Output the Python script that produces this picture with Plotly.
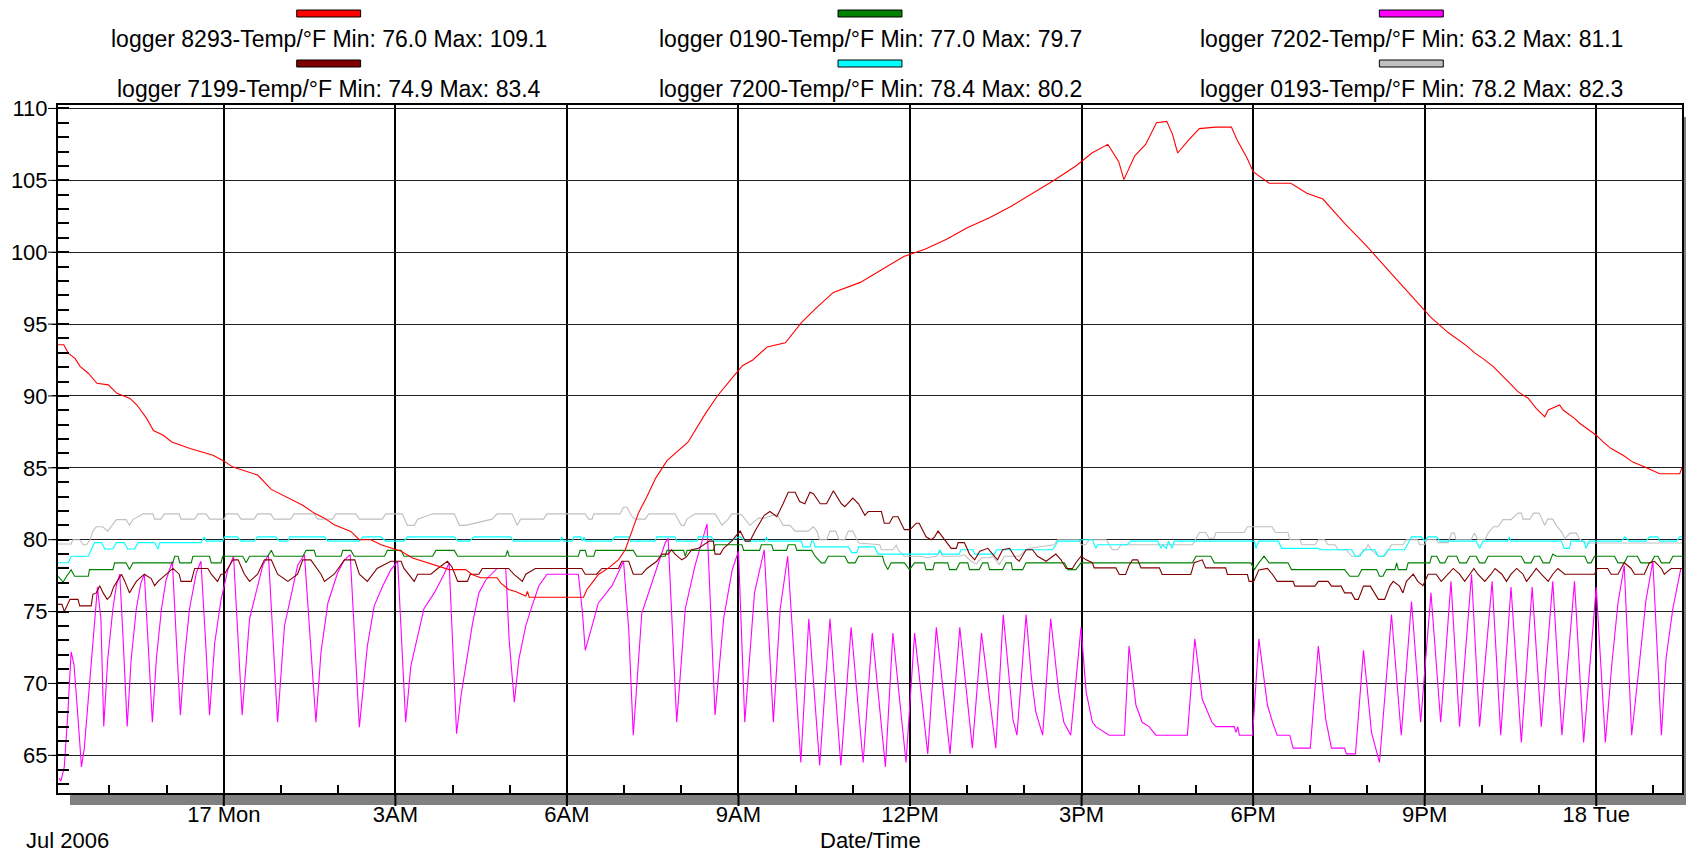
import plotly.graph_objects as go
import pandas as pd

# ---------------- data (hours after 2006-07-17 00:00, temperature °F) ----------------
red_8293 = [(-2.90, 93.56), (-2.80, 93.56), (-2.72, 92.98), (-2.60, 92.6), (-2.51, 92.04), (-2.37, 91.58),
            (-2.22, 90.88), (-2.02, 90.77), (-1.87, 90.18), (-1.64, 89.83), (-1.52, 89.37), (-1.35, 88.44),
            (-1.23, 87.6), (-1.06, 87.27), (-0.91, 86.8), (-0.59, 86.34), (-0.19, 85.87), (-0.01, 85.5),
            (0.16, 85.05), (0.59, 84.5), (0.83, 83.5), (0.97, 83.23), (1.18, 82.77), (1.38, 82.4),
            (1.58, 81.85), (1.76, 81.5), (1.93, 81.04), (2.22, 80.58), (2.37, 80.0), (2.57, 80.0),
            (2.75, 79.65), (3.10, 79.2), (3.30, 78.73), (3.68, 78.27), (3.94, 77.92), (4.23, 77.92),
            (4.34, 77.58), (4.49, 77.35), (4.78, 77.35), (4.84, 77.0), (4.98, 76.54), (5.10, 76.4),
            (5.28, 76.08), (5.31, 76.4), (5.34, 76.0), (6.29, 76.0), (6.35, 76.54), (6.44, 77.0),
            (6.55, 77.58), (6.73, 78.04), (6.90, 78.6), (7.02, 79.3), (7.14, 80.7), (7.25, 81.85),
            (7.40, 83.0), (7.55, 84.27), (7.75, 85.5), (8.12, 86.8), (8.41, 88.7), (8.63, 90.0),
            (8.88, 91.2), (9.07, 92.1), (9.25, 92.5), (9.50, 93.4), (9.82, 93.7), (10.10, 95.1),
            (10.38, 96.2), (10.66, 97.2), (11.13, 97.9), (11.51, 98.8), (11.89, 99.7), (12.26, 100.2),
            (12.64, 100.9), (13.00, 101.7), (13.39, 102.4), (13.77, 103.2), (14.14, 104.1), (14.52, 105.0),
            (14.90, 106.0), (15.18, 106.9), (15.46, 107.5), (15.65, 106.3), (15.74, 105.05), (15.93, 106.7),
            (16.12, 107.5), (16.31, 109.0), (16.49, 109.1), (16.59, 108.2), (16.68, 106.9), (16.87, 107.8),
            (17.06, 108.6), (17.34, 108.7), (17.62, 108.7), (17.72, 107.8), (17.90, 106.5), (18.00, 105.6),
            (18.28, 104.8), (18.66, 104.8), (18.94, 104.1), (19.22, 103.7), (19.60, 102.0), (19.97, 100.5),
            (20.35, 98.8), (20.72, 97.2), (21.10, 95.5), (21.41, 94.41), (21.59, 93.9), (21.73, 93.5),
            (21.88, 92.98), (22.02, 92.6), (22.20, 92.04), (22.28, 91.7), (22.40, 91.2), (22.49, 90.88),
            (22.63, 90.3), (22.81, 89.84), (22.95, 89.14), (23.10, 88.55), (23.16, 89.02), (23.36, 89.37),
            (23.42, 89.02), (23.62, 88.44), (23.71, 88.1), (23.89, 87.6), (24.00, 87.27), (24.12, 86.8),
            (24.26, 86.34), (24.47, 85.87), (24.64, 85.4), (24.85, 85.05), (25.11, 84.59), (25.46, 84.59),
            (25.50, 85.0)]

brown_7199 = [(-2.90, 75.5), (-2.83, 75.5), (-2.79, 75.0), (-2.74, 75.4), (-2.69, 75.85), (-2.55, 75.85),
              (-2.52, 75.4), (-2.32, 75.4), (-2.29, 76.2), (-2.23, 76.3), (-2.17, 76.8), (-2.11, 76.3),
              (-2.04, 75.85), (-1.98, 76.1), (-1.93, 76.7), (-1.79, 77.6), (-1.73, 77.1), (-1.65, 76.3),
              (-1.59, 76.7), (-1.53, 77.1), (-1.39, 77.6), (-1.27, 77.3), (-1.21, 76.8), (-1.15, 77.1),
              (-0.89, 78.0), (-0.78, 77.6), (-0.75, 77.1), (-0.57, 77.1), (-0.51, 78.0), (-0.28, 78.0),
              (-0.22, 77.6), (-0.11, 77.1), (-0.05, 77.6), (0.01, 77.6), (0.16, 78.6), (0.25, 78.6),
              (0.36, 77.6), (0.45, 77.1), (0.59, 77.6), (0.71, 78.6), (0.83, 78.6), (0.94, 77.6),
              (1.12, 77.1), (1.29, 77.6), (1.38, 78.6), (1.52, 78.6), (1.70, 77.6), (1.76, 77.1),
              (1.93, 77.6), (2.11, 78.6), (2.29, 78.6), (2.37, 77.6), (2.51, 77.1), (2.60, 77.6),
              (2.68, 78.0), (2.92, 78.5), (3.10, 78.5), (3.15, 78.0), (3.33, 77.1), (3.39, 77.6),
              (3.62, 77.6), (3.74, 78.0), (3.91, 78.5), (3.99, 78.1), (4.09, 77.1), (4.26, 77.1),
              (4.31, 77.6), (4.46, 77.6), (4.52, 78.0), (4.98, 78.0), (5.07, 77.6), (5.22, 77.1),
              (5.28, 77.6), (5.45, 78.0), (6.26, 78.0), (6.32, 77.6), (6.52, 77.6), (6.61, 78.0),
              (6.90, 78.0), (6.96, 78.5), (7.08, 78.5), (7.16, 77.6), (7.31, 77.6), (7.40, 78.0),
              (7.57, 78.5), (7.66, 79.0), (7.77, 79.0), (7.83, 79.3), (7.89, 79.0), (8.01, 78.6),
              (8.09, 78.8), (8.18, 79.3), (8.30, 79.4), (8.49, 79.9), (8.56, 79.9), (8.59, 79.0),
              (8.68, 79.0), (8.74, 79.4), (8.88, 79.9), (8.94, 80.2), (9.03, 80.6), (9.12, 79.9),
              (9.20, 79.9), (9.29, 80.6), (9.45, 81.7), (9.55, 81.96), (9.67, 81.6), (9.78, 82.5),
              (9.87, 83.3), (9.99, 83.3), (10.07, 82.65), (10.16, 82.5), (10.25, 83.3), (10.31, 83.2),
              (10.43, 82.5), (10.54, 82.5), (10.66, 83.4), (10.80, 82.5), (10.86, 82.3), (11.00, 82.9),
              (11.10, 82.5), (11.21, 81.7), (11.27, 81.96), (11.50, 81.96), (11.55, 81.15), (11.64, 81.15),
              (11.70, 81.6), (11.79, 81.6), (11.90, 80.7), (12.00, 80.7), (12.11, 81.15), (12.16, 81.15),
              (12.28, 80.2), (12.37, 80.0), (12.43, 80.2), (12.49, 80.6), (12.57, 80.2), (12.72, 79.4),
              (12.81, 79.4), (12.84, 79.8), (12.95, 79.8), (13.04, 79.0), (13.13, 78.6), (13.22, 79.2),
              (13.36, 79.4), (13.45, 79.0), (13.53, 78.6), (13.62, 79.3), (13.74, 79.4), (13.85, 78.7),
              (13.91, 78.5), (14.03, 79.3), (14.14, 79.3), (14.23, 78.85), (14.38, 78.5), (14.55, 79.0),
              (14.64, 78.6), (14.73, 78.0), (14.84, 78.0), (14.90, 78.4), (14.99, 78.85), (15.08, 78.6),
              (15.19, 78.4), (15.22, 78.04), (15.60, 78.04), (15.66, 77.58), (15.77, 77.58), (15.83, 78.2),
              (15.89, 78.6), (15.98, 78.6), (16.04, 78.04), (16.36, 78.04), (16.41, 77.58), (16.91, 77.58),
              (16.97, 78.4), (17.11, 78.6), (17.17, 78.04), (17.52, 78.04), (17.55, 77.58), (17.90, 77.58),
              (17.93, 77.1), (18.01, 77.1), (18.10, 77.9), (18.25, 78.0), (18.34, 77.58), (18.42, 77.1),
              (18.70, 77.1), (18.73, 76.77), (19.08, 76.77), (19.14, 77.1), (19.31, 77.1), (19.37, 76.77),
              (19.54, 76.77), (19.60, 76.3), (19.72, 76.3), (19.78, 75.85), (19.84, 75.85), (19.93, 76.77),
              (20.05, 76.77), (20.19, 75.85), (20.30, 75.85), (20.39, 76.77), (20.45, 77.1), (20.56, 76.77),
              (20.62, 76.3), (20.68, 77.1), (20.80, 77.6), (20.88, 77.1), (20.97, 76.8), (21.06, 77.6),
              (21.20, 77.6), (21.29, 77.1), (21.41, 77.6), (21.50, 78.0), (21.61, 77.6), (21.70, 77.1),
              (21.79, 77.6), (21.86, 78.0), (21.93, 77.6), (22.05, 77.1), (22.16, 77.6), (22.23, 78.0),
              (22.35, 77.6), (22.43, 77.1), (22.51, 77.6), (22.61, 78.0), (22.72, 77.6), (22.78, 77.1),
              (22.88, 77.6), (22.95, 78.0), (23.04, 77.6), (23.16, 77.1), (23.24, 77.6), (23.33, 78.0),
              (23.45, 77.6), (23.97, 77.6), (24.02, 78.0), (24.20, 78.0), (24.26, 77.6), (24.38, 77.6),
              (24.49, 78.4), (24.61, 78.0), (24.67, 77.6), (24.84, 77.6), (24.93, 78.4), (25.02, 78.5),
              (25.14, 78.0), (25.19, 77.6), (25.31, 78.0), (25.50, 78.0)]

green_0190 = [(-2.90, 77.46), (-2.81, 77.05), (-2.75, 77.46), (-2.67, 77.9), (-2.61, 77.46), (-2.37, 77.46),
              (-2.35, 77.92), (-1.94, 77.92), (-1.91, 78.39), (-1.71, 78.39), (-1.65, 77.92), (-1.59, 78.39),
              (-0.89, 78.39), (-0.86, 78.85), (-0.80, 78.85), (-0.77, 78.39), (-0.57, 78.39), (-0.54, 78.85),
              (-0.25, 78.85), (-0.22, 78.39), (-0.05, 78.39), (-0.02, 78.85), (0.33, 78.85), (0.39, 78.39),
              (0.45, 78.85), (0.77, 78.85), (0.83, 79.26), (0.88, 78.85), (1.38, 78.85), (1.44, 79.26),
              (1.58, 79.26), (1.61, 78.85), (2.05, 78.85), (2.08, 79.26), (2.22, 79.26), (2.28, 78.85),
              (2.81, 78.85), (2.86, 79.26), (3.10, 79.26), (3.15, 78.85), (3.65, 78.85), (3.71, 79.26),
              (4.03, 79.26), (4.09, 78.85), (4.93, 78.85), (4.96, 79.26), (4.99, 78.85), (6.20, 78.85),
              (6.23, 79.26), (6.32, 79.26), (6.35, 78.85), (6.47, 78.85), (6.50, 79.26), (7.16, 79.26),
              (7.22, 78.85), (7.72, 78.85), (7.75, 79.26), (8.04, 79.26), (8.07, 78.85), (8.10, 79.26),
              (8.56, 79.26), (8.59, 79.65), (9.06, 79.65), (9.09, 79.26), (9.37, 79.26), (9.40, 79.65),
              (9.58, 79.65), (9.61, 79.26), (9.84, 79.26), (9.87, 79.65), (9.99, 79.65), (10.02, 79.26),
              (10.28, 79.26), (10.34, 78.85), (10.45, 78.39), (10.51, 78.39), (10.57, 78.85), (10.86, 78.85),
              (10.92, 78.39), (11.04, 78.39), (11.10, 78.85), (11.52, 78.85), (11.55, 78.39), (11.61, 77.92),
              (11.67, 78.39), (11.90, 78.39), (11.99, 77.92), (12.08, 78.39), (12.25, 78.39), (12.28, 77.92),
              (12.40, 77.92), (12.43, 78.39), (12.66, 78.39), (12.69, 77.92), (12.81, 77.92), (12.87, 78.39),
              (13.01, 78.39), (13.04, 77.92), (13.21, 77.92), (13.27, 78.39), (13.36, 78.39), (13.39, 77.92),
              (13.62, 77.92), (13.68, 78.39), (13.77, 78.39), (13.79, 77.92), (13.97, 77.92), (14.03, 78.39),
              (14.70, 78.39), (14.76, 77.92), (14.90, 77.92), (14.99, 78.39), (16.94, 78.39), (17.00, 78.85),
              (17.26, 78.85), (17.32, 78.39), (17.96, 78.39), (18.02, 77.92), (18.10, 78.39), (18.19, 78.85),
              (18.28, 78.39), (18.61, 78.39), (18.67, 77.92), (19.60, 77.92), (19.69, 77.46), (19.84, 77.46),
              (19.90, 77.92), (20.16, 77.92), (20.21, 77.46), (20.27, 77.46), (20.33, 77.92), (20.48, 77.92),
              (20.51, 78.39), (20.54, 77.92), (20.68, 77.92), (20.71, 78.39), (21.09, 78.39), (21.12, 78.85),
              (21.21, 78.85), (21.27, 78.39), (21.35, 78.39), (21.41, 78.85), (21.56, 78.85), (21.61, 78.39),
              (21.73, 78.39), (21.79, 78.85), (21.90, 78.85), (21.96, 78.39), (22.05, 78.39), (22.11, 78.85),
              (22.69, 78.85), (22.75, 78.39), (22.86, 78.39), (22.92, 78.85), (23.01, 78.85), (23.07, 78.39),
              (23.18, 78.39), (23.24, 79.0), (23.30, 78.85), (23.80, 78.85), (23.85, 78.39), (23.91, 78.39),
              (23.97, 78.85), (24.32, 78.85), (24.38, 78.39), (24.49, 78.39), (24.55, 78.85), (24.72, 78.85),
              (24.78, 78.39), (24.96, 78.39), (25.02, 78.85), (25.08, 78.85), (25.14, 78.39), (25.28, 78.39),
              (25.34, 78.85), (25.50, 78.85)]

cyan_7200 = [(-2.90, 78.4), (-2.72, 78.4), (-2.67, 78.85), (-2.37, 78.85), (-2.32, 79.3), (-2.26, 79.8),
             (-2.14, 79.8), (-2.08, 79.35), (-1.94, 79.35), (-1.88, 79.8), (-1.74, 79.8), (-1.68, 79.35),
             (-1.56, 79.35), (-1.50, 79.8), (-1.21, 79.8), (-1.15, 79.35), (-1.12, 79.8), (-0.40, 79.8),
             (-0.34, 80.2), (-0.31, 79.9), (-0.02, 79.9), (0.01, 80.2), (0.24, 80.2), (0.30, 79.9),
             (0.53, 79.9), (0.59, 80.2), (0.91, 80.2), (0.97, 79.9), (1.12, 79.9), (1.15, 80.2),
             (1.76, 80.2), (1.82, 79.9), (2.37, 79.9), (2.43, 80.2), (2.75, 80.2), (2.83, 79.9),
             (3.15, 79.9), (3.21, 80.2), (4.03, 80.2), (4.09, 79.9), (4.30, 79.9), (4.37, 80.2),
             (5.01, 80.2), (5.07, 79.9), (5.88, 79.9), (5.91, 80.2), (5.94, 79.9), (6.09, 79.9),
             (6.12, 80.2), (6.24, 80.2), (6.27, 79.9), (6.30, 80.2), (6.32, 79.9), (6.78, 79.9),
             (6.84, 80.2), (7.08, 80.2), (7.11, 79.9), (7.54, 79.9), (7.57, 80.2), (7.89, 80.2),
             (7.92, 79.9), (8.27, 79.9), (8.30, 80.2), (8.53, 80.2), (8.56, 79.9), (8.88, 79.9),
             (8.94, 80.1), (9.03, 80.2), (9.12, 79.9), (9.46, 79.9), (9.49, 80.2), (9.52, 79.9),
             (10.10, 79.9), (10.13, 79.5), (10.25, 79.5), (10.28, 79.9), (10.31, 79.9), (10.34, 79.5),
             (10.92, 79.5), (10.98, 79.1), (11.07, 79.1), (11.10, 79.5), (11.38, 79.5), (11.44, 79.0),
             (12.49, 79.0), (12.52, 79.3), (12.56, 79.0), (12.86, 79.0), (12.89, 79.3), (13.10, 79.3),
             (13.13, 79.0), (13.48, 79.0), (13.51, 79.3), (14.49, 79.3), (14.55, 79.65), (14.58, 79.9),
             (14.96, 79.9), (14.99, 80.0), (15.19, 80.0), (15.22, 79.65), (15.25, 79.4), (15.28, 79.65),
             (15.80, 79.65), (15.86, 79.9), (16.33, 79.9), (16.39, 79.4), (16.42, 79.65), (16.48, 79.4),
             (16.52, 79.9), (16.58, 79.4), (16.62, 79.9), (18.02, 79.9), (18.05, 79.4), (18.10, 79.9),
             (18.44, 79.9), (18.50, 79.4), (19.14, 79.4), (19.17, 79.3), (19.72, 79.3), (19.79, 78.85),
             (19.87, 78.85), (19.93, 79.3), (20.13, 79.3), (20.19, 78.85), (20.28, 78.85), (20.36, 79.3),
             (20.65, 79.3), (20.77, 80.2), (20.94, 80.2), (21.00, 79.9), (21.06, 80.2), (21.21, 80.2),
             (21.27, 79.9), (21.90, 79.9), (21.96, 79.4), (22.02, 79.9), (22.45, 79.9), (22.48, 80.2),
             (22.51, 79.9), (23.39, 79.9), (23.44, 79.4), (23.53, 79.4), (23.56, 79.9), (23.79, 79.9),
             (23.82, 79.4), (23.88, 79.9), (24.44, 79.9), (24.50, 80.2), (24.58, 79.9), (24.87, 79.9),
             (24.93, 80.2), (25.08, 80.2), (25.11, 79.9), (25.40, 79.9), (25.46, 80.2), (25.52, 80.2)]

gray_0193 = [(-2.90, 79.7), (-2.67, 79.7), (-2.64, 80.0), (-2.52, 80.0), (-2.46, 79.65), (-2.40, 79.65),
             (-2.34, 80.0), (-2.29, 80.6), (-2.23, 80.9), (-2.12, 80.9), (-2.03, 80.6), (-1.97, 80.9),
             (-1.88, 81.4), (-1.71, 81.4), (-1.65, 81.0), (-1.59, 81.4), (-1.41, 81.8), (-1.24, 81.8),
             (-1.21, 81.43), (-1.10, 81.43), (-1.04, 81.8), (-0.78, 81.8), (-0.75, 81.43), (-0.51, 81.43),
             (-0.45, 81.8), (-0.31, 81.8), (-0.25, 81.43), (0.01, 81.43), (0.04, 81.8), (0.24, 81.8),
             (0.30, 81.43), (0.53, 81.43), (0.59, 81.8), (0.82, 81.8), (0.88, 81.43), (1.17, 81.43),
             (1.23, 81.8), (1.58, 81.8), (1.64, 81.43), (1.90, 81.43), (1.96, 81.8), (2.31, 81.8),
             (2.37, 81.43), (2.77, 81.43), (2.83, 81.8), (3.12, 81.8), (3.21, 81.0), (3.33, 81.0),
             (3.39, 81.43), (3.65, 81.8), (4.03, 81.8), (4.12, 81.0), (4.23, 81.0), (4.69, 81.43),
             (4.78, 81.8), (5.04, 81.8), (5.13, 81.0), (5.19, 81.43), (5.59, 81.43), (5.65, 81.8),
             (6.32, 81.8), (6.38, 81.43), (6.44, 81.43), (6.47, 81.8), (6.93, 81.8), (6.99, 82.26),
             (7.05, 82.26), (7.14, 81.6), (7.20, 81.43), (7.37, 81.43), (7.43, 81.8), (7.89, 81.8),
             (8.00, 81.0), (8.05, 81.0), (8.10, 81.43), (8.24, 81.8), (8.59, 81.8), (8.65, 81.43),
             (8.71, 81.0), (8.82, 81.43), (8.88, 81.8), (9.00, 81.8), (9.06, 81.7), (9.20, 81.0),
             (9.35, 81.5), (9.45, 81.5), (9.67, 81.8), (9.78, 81.0), (9.90, 81.0), (9.99, 80.6),
             (10.22, 80.6), (10.31, 80.9), (10.37, 80.6), (10.42, 80.0), (10.54, 80.0), (10.60, 80.6),
             (10.70, 80.6), (10.76, 80.0), (10.86, 80.0), (10.92, 80.6), (11.00, 80.6), (11.10, 79.77),
             (11.39, 79.65), (11.47, 79.65), (11.50, 79.3), (11.70, 79.3), (11.76, 79.65), (11.79, 79.3),
             (11.90, 78.85), (12.22, 78.85), (12.28, 78.75), (12.46, 78.85), (12.52, 79.2), (12.57, 78.85),
             (12.87, 78.85), (12.95, 78.95), (13.07, 78.5), (13.16, 78.3), (13.25, 78.75), (13.39, 78.75),
             (13.45, 78.85), (13.51, 78.5), (13.56, 78.27), (13.65, 78.85), (13.91, 78.85), (14.03, 79.3),
             (14.09, 79.4), (14.52, 79.65), (14.58, 80.0), (14.96, 80.0), (14.99, 79.65), (15.07, 79.65),
             (15.13, 80.0), (15.43, 80.0), (15.48, 79.65), (15.54, 79.3), (15.63, 79.3), (15.69, 79.65),
             (16.94, 79.65), (17.00, 80.1), (17.06, 80.5), (17.17, 80.5), (17.23, 80.1), (17.32, 80.1),
             (17.35, 80.5), (17.84, 80.5), (17.90, 80.9), (18.33, 80.9), (18.39, 80.5), (18.61, 80.5),
             (18.64, 80.0), (18.82, 80.0), (18.85, 79.65), (19.08, 79.65), (19.14, 80.0), (19.25, 80.0),
             (19.31, 79.65), (19.43, 79.65), (19.49, 79.3), (19.63, 79.3), (19.72, 78.85), (19.84, 78.85),
             (19.96, 79.3), (20.01, 79.65), (20.07, 79.3), (20.19, 78.85), (20.30, 78.85), (20.42, 79.65),
             (20.62, 79.65), (20.68, 80.0), (20.88, 80.0), (20.91, 79.65), (21.00, 79.65), (21.03, 80.0),
             (21.20, 80.0), (21.24, 79.8), (21.41, 79.8), (21.47, 80.46), (21.52, 80.46), (21.55, 80.0),
             (21.81, 80.0), (21.87, 80.46), (21.93, 80.0), (22.05, 80.0), (22.11, 80.46), (22.20, 80.9),
             (22.28, 80.9), (22.37, 81.4), (22.51, 81.4), (22.63, 81.85), (22.69, 81.85), (22.72, 81.43),
             (22.84, 81.43), (22.90, 81.85), (23.00, 81.85), (23.10, 81.0), (23.15, 81.43), (23.24, 81.43),
             (23.30, 81.0), (23.41, 80.46), (23.45, 80.05), (23.54, 80.46), (23.65, 80.46), (23.71, 80.05),
             (23.80, 79.77), (25.52, 79.77)]

magenta_7202 = [(-2.88, 63.4), (-2.85, 63.2), (-2.79, 64.2), (-2.73, 67.8), (-2.67, 72.2), (-2.62, 71.3),
                (-2.55, 67.6), (-2.49, 64.2), (-2.44, 65.5), (-2.36, 69.6), (-2.28, 73.4), (-2.21, 76.7),
                (-2.15, 74.5), (-2.10, 67.0), (-2.03, 71.7), (-1.94, 75.2), (-1.88, 76.8), (-1.82, 77.6),
                (-1.76, 73.0), (-1.69, 67.0), (-1.62, 71.7), (-1.53, 75.2), (-1.45, 77.0), (-1.39, 77.6),
                (-1.32, 72.5), (-1.25, 67.3), (-1.18, 71.7), (-1.09, 75.2), (-1.01, 77.2), (-0.90, 78.5),
                (-0.83, 73.0), (-0.76, 67.8), (-0.69, 71.7), (-0.60, 75.2), (-0.48, 77.7), (-0.40, 78.5),
                (-0.32, 73.0), (-0.25, 67.8), (-0.16, 72.8), (-0.05, 75.8), (0.07, 77.9), (0.17, 78.85),
                (0.25, 73.0), (0.32, 67.8), (0.45, 74.5), (0.59, 76.8), (0.68, 78.2), (0.78, 78.96),
                (0.86, 73.0), (0.94, 67.3), (1.06, 74.0), (1.18, 76.3), (1.29, 78.2), (1.41, 78.96),
                (1.51, 73.0), (1.61, 67.3), (1.70, 72.2), (1.82, 75.6), (1.99, 77.7), (2.11, 78.6),
                (2.21, 78.96), (2.29, 73.0), (2.37, 66.96), (2.51, 72.6), (2.63, 75.4), (2.78, 76.8),
                (2.92, 77.9), (3.04, 78.5), (3.11, 73.0), (3.18, 67.3), (3.27, 71.2), (3.39, 73.3),
                (3.50, 75.2), (3.68, 76.3), (3.85, 77.6), (3.94, 78.4), (4.00, 73.0), (4.07, 66.5),
                (4.15, 69.2), (4.23, 71.2), (4.35, 74.2), (4.46, 76.3), (4.58, 77.2), (4.78, 78.0),
                (4.93, 78.0), (4.99, 73.0), (5.08, 68.7), (5.16, 71.7), (5.28, 74.0), (5.39, 75.4),
                (5.51, 76.8), (5.65, 77.6), (6.20, 77.6), (6.27, 75.0), (6.32, 72.3), (6.44, 74.0),
                (6.55, 75.6), (6.79, 76.8), (6.99, 78.5), (7.08, 73.8), (7.16, 66.4), (7.31, 74.9),
                (7.48, 77.0), (7.72, 79.8), (7.77, 80.1), (7.92, 67.3), (8.07, 75.2), (8.24, 78.2),
                (8.45, 81.1), (8.59, 67.8), (8.74, 74.5), (8.89, 77.9), (9.00, 79.2), (9.11, 67.3),
                (9.28, 76.3), (9.45, 79.3), (9.61, 67.3), (9.73, 75.2), (9.86, 78.85), (10.09, 64.5),
                (10.23, 74.5), (10.42, 64.3), (10.60, 74.5), (10.79, 64.3), (10.97, 73.9), (11.18, 64.5),
                (11.34, 73.5), (11.57, 64.2), (11.70, 73.5), (11.93, 64.5), (12.08, 73.5), (12.31, 65.1),
                (12.46, 73.9), (12.70, 65.1), (12.87, 73.9), (13.09, 65.5), (13.25, 73.5), (13.50, 65.5),
                (13.63, 74.8), (13.72, 70.8), (13.80, 67.5), (13.87, 66.4), (14.03, 74.8), (14.12, 70.5),
                (14.20, 68.0), (14.32, 66.4), (14.46, 74.5), (14.60, 69.4), (14.69, 67.3), (14.81, 66.4),
                (14.99, 73.9), (15.08, 69.4), (15.19, 67.3), (15.25, 67.0), (15.48, 66.4), (15.75, 66.4),
                (15.83, 72.6), (15.95, 68.5), (16.06, 67.3), (16.18, 67.0), (16.30, 66.4), (16.85, 66.4),
                (16.98, 73.1), (17.11, 68.9), (17.28, 67.3), (17.35, 67.0), (17.67, 67.0), (17.70, 66.6),
                (17.73, 67.0), (17.76, 66.4), (17.99, 66.4), (18.10, 73.1), (18.25, 68.5), (18.34, 67.3),
                (18.42, 66.4), (18.64, 66.4), (18.70, 65.5), (19.00, 65.5), (19.14, 72.6), (19.27, 67.5),
                (19.37, 65.5), (19.60, 65.5), (19.63, 65.1), (19.79, 65.1), (19.93, 72.3), (20.07, 66.6),
                (20.21, 64.5), (20.42, 74.8), (20.59, 66.4), (20.77, 75.7), (20.93, 67.3), (21.11, 76.3),
                (21.28, 67.3), (21.46, 77.1), (21.61, 67.0), (21.82, 77.6), (21.96, 67.0), (22.18, 77.1),
                (22.33, 66.4), (22.51, 76.7), (22.69, 65.9), (22.88, 76.7), (23.04, 67.0), (23.24, 77.1),
                (23.40, 66.4), (23.62, 77.1), (23.78, 65.9), (24.00, 76.7), (24.16, 65.9), (24.27, 71.2),
                (24.38, 75.6), (24.49, 78.2), (24.62, 66.4), (24.75, 71.2), (24.87, 75.8), (24.99, 78.5),
                (25.14, 66.4), (25.22, 71.7), (25.34, 75.2), (25.48, 78.0)]

logger_ids = ["8293", "0190", "7202", "7199", "7200", "0193"]
logger_min = [76.0, 77.0, 63.2, 74.9, 78.4, 78.2]
logger_max = [109.1, 79.7, 81.1, 83.4, 80.2, 82.3]
logger_colors = ["#FF0000", "#008000", "#FF00FF", "#800000", "#00FFFF", "#C0C0C0"]
logger_series = [red_8293, green_0190, magenta_7202, brown_7199, cyan_7200, gray_0193]

tick_hours = [0, 3, 6, 9, 12, 15, 18, 21, 24]
tick_labels = ["17 Mon", "3AM", "6AM", "9AM", "12PM", "3PM", "6PM", "9PM", "18 Tue"]
y_ticks = [65, 70, 75, 80, 85, 90, 95, 100, 105, 110]

# ---------------- figure ----------------
BASE = pd.Timestamp("2006-07-17 00:00")
W, H = 1688, 852
ML, MR, MT, MB = 58, 4, 105, 59
PW, PH = W - ML - MR, H - MT - MB
FONT = "Liberation Sans, Arial, sans-serif"


def to_time(hours):
    return [BASE + pd.Timedelta(hours=h) for h in hours]


def px_x(px):
    return (px - ML) / PW


def px_y(py):
    return (H - MB - py) / PH


fig = go.Figure()
draw_order = [2, 5, 4, 1, 3, 0]
for i in draw_order:
    hrs = [p[0] for p in logger_series[i]]
    vals = [p[1] for p in logger_series[i]]
    fig.add_trace(go.Scatter(x=to_time(hrs), y=vals, mode="lines",
                             line=dict(color=logger_colors[i], width=1.1),
                             showlegend=False, hoverinfo="skip"))

x_start = BASE + pd.Timedelta(hours=-2.90)
x_end = BASE + pd.Timedelta(hours=25.50)

fig.update_layout(
    width=W, height=H, margin=dict(l=ML, r=MR, t=MT, b=MB),
    paper_bgcolor="white", plot_bgcolor="white",
    font=dict(family=FONT, size=22, color="black"),
    xaxis=dict(type="date", range=[x_start, x_end],
               tickmode="array", tickvals=to_time(tick_hours), ticktext=tick_labels,
               showgrid=True, gridcolor="black", gridwidth=2,
               ticks="outside", ticklen=1, tickwidth=2, tickcolor="black",
               showline=True, linecolor="black", linewidth=2, mirror=True,
               tickfont=dict(size=22),
               minor=dict(tickmode="linear", tick0=BASE, dtick=3600000, ticks="inside",
                          ticklen=8, tickwidth=2, tickcolor="black", showgrid=False),
               zeroline=False),
    yaxis=dict(range=[62.38, 110.24], tickmode="array", tickvals=y_ticks,
               showgrid=True, gridcolor="#202020", gridwidth=1,
               ticks="outside", ticklen=4, tickwidth=1, tickcolor="black",
               showline=True, linecolor="black", linewidth=2, mirror=True,
               tickfont=dict(size=22),
               minor=dict(tickmode="linear", tick0=0, dtick=1, ticks="inside",
                          ticklen=11, tickwidth=1.5, tickcolor="black", showgrid=False),
               zeroline=False),
)

shapes = []
# drop shadow below and right of the plot frame
shapes.append(dict(type="rect", xref="paper", yref="paper", layer="below",
                   x0=px_x(70), x1=px_x(W), y0=px_y(805), y1=px_y(H - MB),
                   fillcolor="#808080", line=dict(width=0)))
shapes.append(dict(type="rect", xref="paper", yref="paper", layer="below",
                   x0=px_x(W - MR), x1=px_x(W), y0=px_y(805), y1=px_y(117),
                   fillcolor="#808080", line=dict(width=0)))
# major x ticks continue through the shadow bar
for t in to_time(tick_hours):
    shapes.append(dict(type="line", xref="x", yref="paper", layer="above",
                       x0=t, x1=t, y0=px_y(806), y1=0,
                       line=dict(color="black", width=2)))
# short outside y ticks
for v in y_ticks:
    shapes.append(dict(type="line", xref="paper", yref="y", layer="above",
                       x0=px_x(48), x1=0, y0=v, y1=v,
                       line=dict(color="black", width=1)))

annotations = []
col_centers = [329, 871, 1413]
swatch_top = [10, 60]
text_mid = [39, 89]
for k in range(6):
    row, col = k // 3, k % 3
    cx = col_centers[col]
    shapes.append(dict(type="rect", xref="paper", yref="paper",
                       x0=px_x(cx - 32), x1=px_x(cx + 32),
                       y0=px_y(swatch_top[row] + 7), y1=px_y(swatch_top[row]),
                       fillcolor=logger_colors[k], line=dict(color="black", width=1)))
    label = f"logger {logger_ids[k]}-Temp/°F Min: {logger_min[k]:.1f} Max: {logger_max[k]:.1f}"
    annotations.append(dict(xref="paper", yref="paper", x=px_x(cx), y=px_y(text_mid[row]),
                            text=label, showarrow=False, xanchor="center", yanchor="middle",
                            font=dict(family=FONT, size=23, color="black")))

annotations.append(dict(xref="paper", yref="paper", x=px_x(24), y=px_y(840), text="Jul 2006",
                        showarrow=False, xanchor="left", yanchor="middle",
                        font=dict(family=FONT, size=22, color="black")))
annotations.append(dict(xref="paper", yref="paper", x=px_x(871), y=px_y(840), text="Date/Time",
                        showarrow=False, xanchor="center", yanchor="middle",
                        font=dict(family=FONT, size=22, color="black")))

fig.update_layout(shapes=shapes, annotations=annotations)

fig.write_html("out.html", config={"displayModeBar": False},
               post_script="document.body.style.margin='0';")
